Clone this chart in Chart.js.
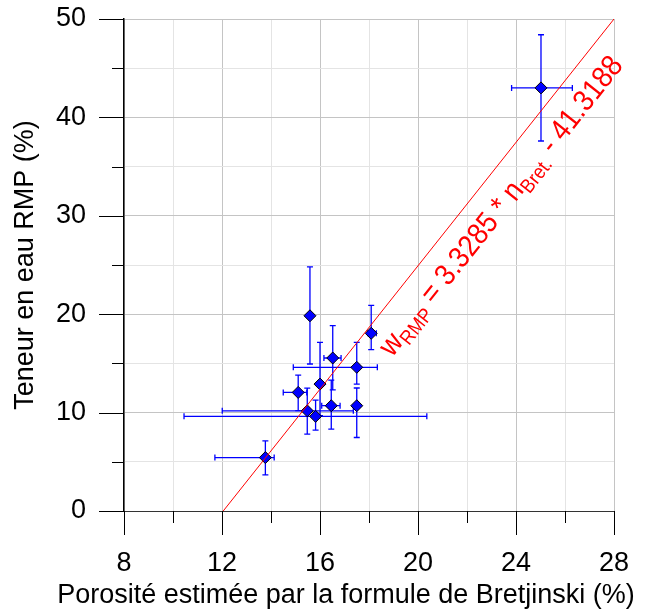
<!DOCTYPE html>
<html>
<head>
<meta charset="utf-8">
<title>Teneur en eau RMP vs porosité Bretjinski</title>
<script src="https://cdn.jsdelivr.net/npm/chart.js@4.4.1/dist/chart.umd.min.js"></script>
<style>
  html, body { margin: 0; padding: 0; background: #ffffff; }
  canvas { display: block; }
</style>
</head>
<body>
<canvas id="chart" width="645" height="613"></canvas>
<script>
// measured points (porosity %, water content %)
const porosity = [25.02, 15.59, 18.09, 16.52, 17.5, 17.5, 16.0, 15.11, 15.48, 15.82, 16.46, 13.77];
const waterContent = [43.0, 19.84, 18.06, 15.55, 14.6, 10.7, 12.9, 12.05, 10.18, 9.62, 10.7, 5.43];

// error bar limits
const porosityLow = [23.82, 15.59, 17.95, 16.16, 14.91, 17.5, 16.0, 14.5, 12.01, 10.45, 16.07, 11.71];
const porosityHigh = [26.3, 15.59, 18.3, 16.86, 18.34, 17.5, 16.0, 15.46, 17.36, 20.36, 16.82, 14.13];
const waterLow = [37.6, 14.94, 16.4, 12.3, 12.9, 7.47, 9.7, 10.2, 7.81, 8.22, 8.32, 3.67];
const waterHigh = [48.4, 24.8, 20.9, 18.84, 17.14, 12.5, 17.14, 13.8, 12.49, 11.27, 13.3, 7.13];

// fitted line as drawn
const fitX = [12.05, 28];
const fitY = [0, 50];

const xTitle = 'Porosité estimée par la formule de Bretjinski (%)';
const yTitle = 'Teneur en eau RMP (%)';
const equationParts = [
    { text: 'w', sub: false },
    { text: 'RMP', sub: true },
    { text: ' = 3.3285 * n', sub: false },
    { text: 'Bret.', sub: true },
    { text: ' - 41.3188', sub: false }
];

const FONT = '"Liberation Sans", Arial, sans-serif';
Chart.defaults.font.family = FONT;
Chart.defaults.color = '#000000';

const errorBars = {
    id: 'errorBars',
    beforeDatasetsDraw(chart) {
        const { ctx, scales: { x, y } } = chart;
        const cap = 3;
        ctx.save();
        ctx.strokeStyle = '#0000ff';
        ctx.lineWidth = 1.3;
        for (let i = 0; i < porosity.length; i++) {
            const px = x.getPixelForValue(porosity[i]);
            const py = y.getPixelForValue(waterContent[i]);
            ctx.beginPath();
            if (porosityHigh[i] > porosityLow[i]) {
                const x0 = x.getPixelForValue(porosityLow[i]);
                const x1 = x.getPixelForValue(porosityHigh[i]);
                ctx.moveTo(x0, py); ctx.lineTo(x1, py);
                ctx.moveTo(x0, py - cap); ctx.lineTo(x0, py + cap);
                ctx.moveTo(x1, py - cap); ctx.lineTo(x1, py + cap);
            }
            const y0 = y.getPixelForValue(waterLow[i]);
            const y1 = y.getPixelForValue(waterHigh[i]);
            ctx.moveTo(px, y0); ctx.lineTo(px, y1);
            ctx.moveTo(px - cap, y0); ctx.lineTo(px + cap, y0);
            ctx.moveTo(px - cap, y1); ctx.lineTo(px + cap, y1);
            ctx.stroke();
        }
        ctx.restore();
    }
};

const decorations = {
    id: 'decorations',
    afterDraw(chart) {
        const { ctx, scales: { x, y }, chartArea } = chart;
        ctx.save();

        // tick marks, long on labelled values
        ctx.strokeStyle = '#000000';
        ctx.lineWidth = 1;
        ctx.beginPath();
        x.ticks.forEach(t => {
            const px = Math.round(x.getPixelForValue(t.value)) + 0.5;
            const len = t.value % 4 === 0 ? 24 : 12;
            ctx.moveTo(px, chartArea.bottom);
            ctx.lineTo(px, chartArea.bottom + len);
        });
        y.ticks.forEach(t => {
            const py = Math.round(y.getPixelForValue(t.value)) + 0.5;
            const len = t.value % 10 === 0 ? 25 : 12;
            ctx.moveTo(chartArea.left, py);
            ctx.lineTo(chartArea.left - len, py);
        });
        ctx.stroke();

        // axis titles
        ctx.fillStyle = '#000000';
        ctx.font = '27px ' + FONT;
        ctx.textAlign = 'center';
        ctx.textBaseline = 'alphabetic';
        ctx.fillText(xTitle, 346, 603);
        ctx.save();
        ctx.translate(33, (chartArea.top + chartArea.bottom) / 2);
        ctx.rotate(-Math.PI / 2);
        ctx.fillText(yTitle, 0, 0);
        ctx.restore();

        // equation along the fitted line
        const ax = x.getPixelForValue(fitX[0]);
        const ay = y.getPixelForValue(fitY[0]);
        const bx = x.getPixelForValue(fitX[1]);
        const by = y.getPixelForValue(fitY[1]);
        const ang = Math.atan2(by - ay, bx - ax);
        const f = 0.655;
        const cx = ax + (bx - ax) * f;
        const cy = ay + (by - ay) * f;
        const mainFont = '30px ' + FONT;
        const subFont = '20px ' + FONT;
        let total = 0;
        equationParts.forEach(p => {
            ctx.font = p.sub ? subFont : mainFont;
            p.w = ctx.measureText(p.text).width;
            total += p.w;
        });
        ctx.translate(cx, cy);
        ctx.rotate(ang);
        ctx.scale(0.9, 1);
        ctx.fillStyle = '#ff0000';
        ctx.textAlign = 'left';
        let pos = -total / 2;
        const off = 37;
        equationParts.forEach(p => {
            ctx.font = p.sub ? subFont : mainFont;
            ctx.fillText(p.text, pos, off + (p.sub ? 6 : 0));
            pos += p.w;
        });
        ctx.restore();
    }
};

const majorGrid = '#c4c4c4';
const minorGrid = '#e4e4e4';

// keep the plot box fixed: no extra room for overhanging labels
const noPad = s => {
    s.paddingTop = 0;
    s.paddingBottom = 0;
    s.paddingLeft = 0;
    s.paddingRight = 0;
};

new Chart(document.getElementById('chart'), {
    type: 'scatter',
    data: {
        datasets: [
            {
                type: 'line',
                label: 'fit',
                data: fitX.map((v, i) => ({ x: v, y: fitY[i] })),
                borderColor: '#ff0000',
                borderWidth: 1,
                pointRadius: 0,
                fill: false,
                order: 0
            },
            {
                label: 'mesures',
                data: porosity.map((v, i) => ({ x: v, y: waterContent[i] })),
                pointStyle: 'rectRot',
                pointRadius: 6,
                pointBackgroundColor: '#0000ff',
                pointBorderColor: '#000000',
                pointBorderWidth: 1,
                order: 1
            }
        ]
    },
    options: {
        responsive: false,
        animation: false,
        devicePixelRatio: 1,
        layout: { padding: { left: 0, right: 31, top: 19, bottom: 0 } },
        plugins: {
            legend: { display: false },
            tooltip: { enabled: false }
        },
        scales: {
            x: {
                type: 'linear',
                min: 8,
                max: 28,
                afterFit: s => { s.height = 102; noPad(s); },
                ticks: {
                    stepSize: 2,
                    autoSkip: false,
                    maxRotation: 0,
                    padding: 36,
                    font: { size: 27 },
                    callback: v => (v % 4 === 0 ? v : '')
                },
                grid: {
                    drawTicks: false,
                    color: c => (c.tick && c.tick.value % 4 === 0 ? majorGrid : minorGrid)
                },
                border: { color: '#333333', width: 1 }
            },
            y: {
                type: 'linear',
                min: 0,
                max: 50,
                afterFit: s => { s.width = 124; noPad(s); },
                ticks: {
                    stepSize: 5,
                    autoSkip: false,
                    padding: 38,
                    font: { size: 27 },
                    callback: v => (v % 10 === 0 ? v : '')
                },
                grid: {
                    drawTicks: false,
                    color: c => (c.tick && c.tick.value % 10 === 0 ? majorGrid : minorGrid)
                },
                border: { color: '#000000', width: 1.5 }
            }
        }
    },
    plugins: [errorBars, decorations]
});
</script>
</body>
</html>
